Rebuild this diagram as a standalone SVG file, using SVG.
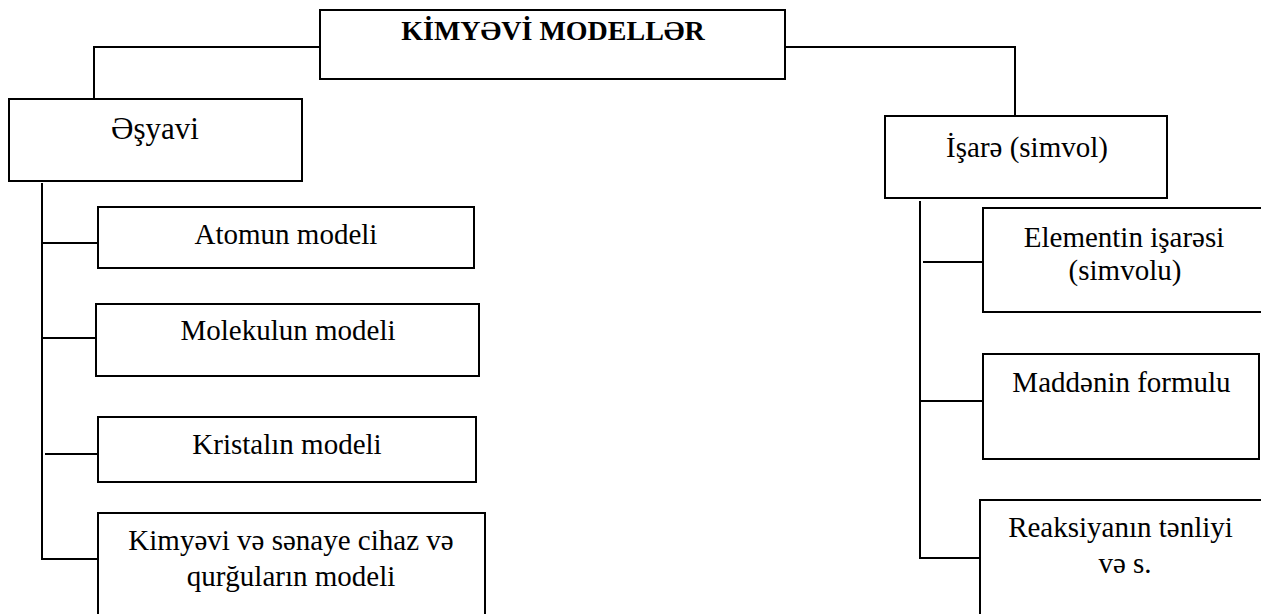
<svg xmlns="http://www.w3.org/2000/svg" width="1261" height="614" viewBox="0 0 1261 614">
<style>
.box{fill:#fff;stroke:#000;stroke-width:2}
.ln{fill:none;stroke:#000;stroke-width:2}
.t{font-family:"Liberation Serif","Times New Roman",serif;font-size:29px;fill:#000;text-anchor:middle}
.b{font-weight:bold;font-size:28px}
</style>
<rect width="1261" height="614" fill="#fff"/>
<g id="connectors">
<path class="ln" d="M320,47 H94 V99"/>
<path class="ln" d="M785,47 H1015 V116"/>
<path class="ln" d="M42,183 V559 H98"/>
<path class="ln" d="M42,243 H98"/>
<path class="ln" d="M42,338 H96"/>
<path class="ln" d="M45,454 H98"/>
<path class="ln" d="M920,201 V558 H980"/>
<path class="ln" d="M923,262 H983"/>
<path class="ln" d="M920,401 H983"/>
</g>
<g id="root">
<rect class="box" x="320" y="10" width="465" height="69"/>
<text class="t b" x="553" y="40">KİMYƏVİ MODELLƏR</text>
</g>
<g id="esyavi">
<rect class="box" x="9" y="99" width="293" height="82"/>
<text class="t" x="155" y="139" style="font-size:31px">Əşyavi</text>
</g>
<g id="isare">
<rect class="box" x="885" y="116" width="282" height="82"/>
<text class="t" x="1027" y="157">İşarə (simvol)</text>
</g>
<g id="atom">
<rect class="box" x="98" y="207" width="376" height="61"/>
<text class="t" x="286" y="244">Atomun modeli</text>
</g>
<g id="molekul">
<rect class="box" x="96" y="304" width="383" height="72"/>
<text class="t" x="288" y="340">Molekulun modeli</text>
</g>
<g id="kristal">
<rect class="box" x="98" y="417" width="378" height="65"/>
<text class="t" x="287" y="454">Kristalın modeli</text>
</g>
<g id="cihaz">
<rect class="box" x="98" y="513" width="387" height="110"/>
<text class="t" x="291" y="550">Kimyəvi və sənaye cihaz və</text>
<text class="t" x="291" y="586">qurğuların modeli</text>
</g>
<g id="element">
<rect class="box" x="983" y="208" width="290" height="104"/>
<text class="t" x="1124" y="247">Elementin işarəsi</text>
<text class="t" x="1125" y="280">(simvolu)</text>
</g>
<g id="madde">
<rect class="box" x="983" y="354" width="276" height="105"/>
<text class="t" x="1121.5" y="392">Maddənin formulu</text>
</g>
<g id="reaksiya">
<rect class="box" x="980" y="500" width="293" height="130"/>
<text class="t" x="1120.5" y="537">Reaksiyanın tənliyi</text>
<text class="t" x="1125" y="573">və s.</text>
</g>
</svg>
